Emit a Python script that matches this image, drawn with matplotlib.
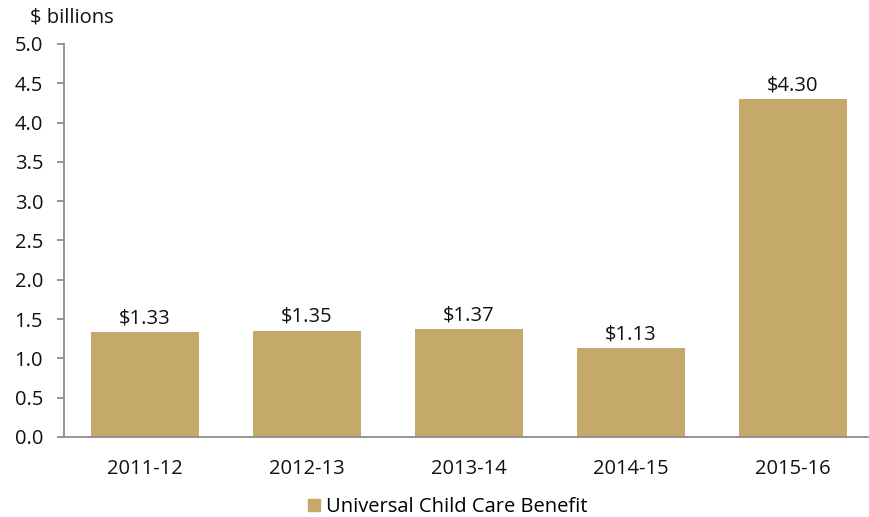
import matplotlib
matplotlib.use("Agg")
import matplotlib.pyplot as plt
from matplotlib.patches import Patch

years = ["2011-12", "2012-13", "2013-14", "2014-15", "2015-16"]
ucc_benefit = [1.33, 1.35, 1.37, 1.13, 4.30]
y_ticks = [0.0, 0.5, 1.0, 1.5, 2.0, 2.5, 3.0, 3.5, 4.0, 4.5, 5.0]

bar_color = "#C4A96B"
axis_color = "#8C8C8C"
fs = 14.5

plt.rcParams["font.family"] = ["Open Sans", "DejaVu Sans"]

fig = plt.figure(figsize=(8.7, 5.17), dpi=100)
ax = fig.add_axes([64 / 870, 1 - 437 / 517, 804 / 870, 393 / 517])

x = list(range(len(years)))
bars = ax.bar(x, ucc_benefit, width=0.667, color=bar_color)

for xi, v in zip(x, ucc_benefit):
	ax.text(xi, v + 0.05, "${:.2f}".format(v), ha="center", va="bottom",
			fontsize=fs, color="#111111")

ax.set_xlim(-0.5, 4.463)
ax.set_ylim(0, 5.0)
ax.set_yticks(y_ticks)
ax.set_yticklabels(["{:.1f}".format(t) for t in y_ticks])
ax.set_xticks(x)
ax.set_xticklabels(years)

for side in ["top", "right"]:
	ax.spines[side].set_visible(False)
for side in ["left", "bottom"]:
	ax.spines[side].set_color(axis_color)
	ax.spines[side].set_linewidth(1.3)

ax.tick_params(axis="y", length=5, width=1.3, color=axis_color,
			   labelsize=fs, pad=10, labelcolor="#111111")
ax.tick_params(axis="x", length=0, labelsize=fs, pad=16, labelcolor="#111111")

fig.text(30 / 870, 1 - 18 / 517, "$ billions", fontsize=fs, va="center",
		 ha="left", color="#111111")

leg = fig.legend(handles=[Patch(color=bar_color, label="Universal Child Care Benefit")],
				 loc="center", bbox_to_anchor=(448 / 870, 1 - 507 / 517),
				 frameon=False, fontsize=fs, handlelength=0.6, handleheight=0.6,
				 handletextpad=0.3)

fig.savefig("out.png", dpi=100)
